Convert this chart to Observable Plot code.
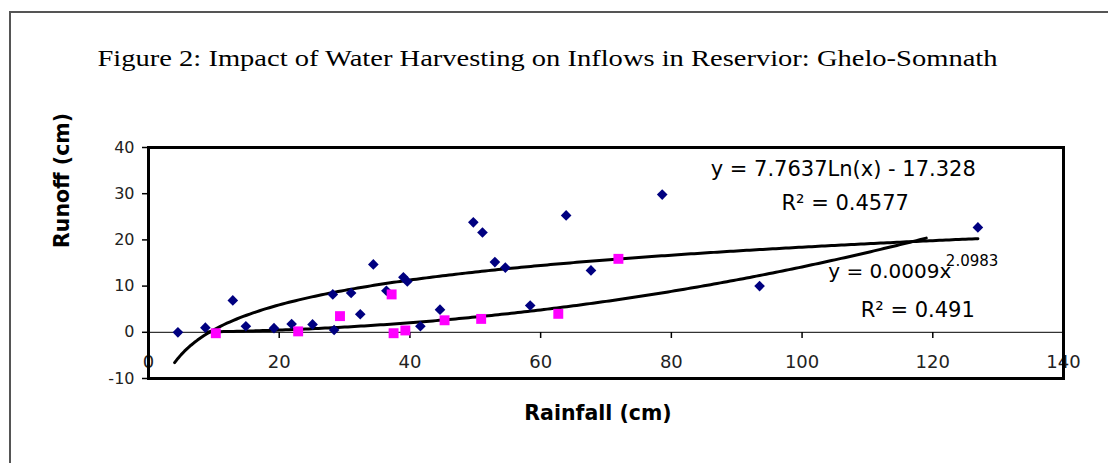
<!DOCTYPE html>
<html><head><meta charset="utf-8">
<script src="https://cdn.jsdelivr.net/npm/d3@7"></script>
<script src="https://cdn.jsdelivr.net/npm/@observablehq/plot@0.6"></script>
<style>
body{margin:0;background:#fff;}
#wrap{position:relative;width:1108px;height:463px;overflow:hidden;background:#fff;}
#border{position:absolute;left:9px;top:11px;width:1200px;height:600px;border-left:2px solid #555;border-top:2px solid #555;}
#wrap svg{position:absolute;left:0;top:0;}
</style></head><body><div id="wrap"><div id="border"></div></div>
<script>
// Series 1 (navy diamonds): rainfall (cm) vs runoff (cm)
const blueX = [4.5, 8.7, 12.9, 14.9, 19.2, 21.9, 25.1, 28.2, 28.4, 31.0, 32.4, 34.4, 36.4, 39.0, 39.6, 41.6, 44.6, 49.7, 51.1, 53.0, 54.6, 58.4, 63.9, 67.7, 78.6, 93.5, 126.9];
const blueY = [0.0, 1.0, 6.9, 1.3, 0.9, 1.8, 1.7, 8.2, 0.5, 8.5, 3.9, 14.7, 9.0, 11.9, 11.0, 1.3, 4.9, 23.8, 21.6, 15.2, 14.0, 5.8, 25.3, 13.4, 29.8, 10.0, 22.7];
// Series 2 (magenta squares)
const pinkX = [10.3, 22.9, 29.3, 37.2, 37.5, 39.3, 45.3, 50.9, 62.7, 71.9];
const pinkY = [-0.2, 0.2, 3.5, 8.2, -0.2, 0.4, 2.6, 2.9, 4.0, 15.9];
// Axis ticks
const xTicks = [0, 20, 40, 60, 80, 100, 120, 140];
const yTicks = [-10, 0, 10, 20, 30, 40];
// Trendlines as printed on the chart
const logFit = {a: 7.7637, b: -17.328, from: 4, to: 126.9};
const powFit = {a: 0.0009, k: 2.0983, from: 9, to: 119};
// Text
const titleText = "Figure 2: Impact of Water Harvesting on Inflows in Reservior: Ghelo-Somnath";
const xLabel = "Rainfall (cm)";
const yLabel = "Runoff (cm)";
const eqCentered = [
  {x: 106.3, y: 35.2, text: "y = 7.7637Ln(x) - 17.328"},
  {x: 106.6, y: 27.9, text: "R\u00b2 = 0.4577"},
  {x: 117.7, y: 4.7, text: "R\u00b2 = 0.491"}
];
const eqPower = [{x: 104.0, y: 13.2, text: "y = 0.0009x"}];
const eqExponent = [{x: 122.0, y: 15.3, text: "2.0983"}];

const blue = blueX.map((x, i) => ({x, y: blueY[i]}));
const pink = pinkX.map((x, i) => ({x, y: pinkY[i]}));
const logCurve = d3.range(logFit.from, logFit.to, 0.5).concat([logFit.to]).map(x => ({x, y: logFit.a * Math.log(x) + logFit.b}));
const powCurve = d3.range(powFit.from, powFit.to, 0.5).concat([powFit.to]).map(x => ({x, y: powFit.a * Math.pow(x, powFit.k)}));

const eqFont = "'DejaVu Sans', sans-serif";
const chart = Plot.plot({
  width: 1108, height: 463,
  marginLeft: 148, marginRight: 45, marginTop: 147, marginBottom: 85,
  x: {domain: [0, 140]},
  y: {domain: [-10, 40]},
  style: {background: "transparent", color: "#000", fontFamily: "'DejaVu Sans', sans-serif"},
  marks: [
    Plot.ruleY([0], {stroke: "#000", strokeWidth: 1}),
    Plot.axisY({ticks: yTicks, tickFormat: d => `${d}`, tickSize: 6, tickPadding: 8, fontSize: 16, label: null, stroke: "#000", strokeWidth: 1.5, fill: "#222"}),
    Plot.axisX({ticks: xTicks, tickFormat: d => `${d}`, tickSize: 6, tickPadding: 17, fontSize: 18, label: null, dy: -46, stroke: "#000", strokeWidth: 1.5, fill: "#222"}),
    Plot.line(logCurve, {x: "x", y: "y", stroke: "#000", strokeWidth: 3}),
    Plot.line(powCurve, {x: "x", y: "y", stroke: "#000", strokeWidth: 3}),
    Plot.dot(blue, {x: "x", y: "y", symbol: "diamond2", r: 4.8, fill: "#000080"}),
    Plot.dot(pink, {x: "x", y: "y", symbol: "square", r: 5.6, fill: "#ff00ff"}),
    Plot.frame({stroke: "#000", strokeWidth: 3}),
    Plot.text(eqCentered, {x: "x", y: "y", text: "text", textAnchor: "middle", fontSize: 21, fontFamily: eqFont, fill: "#000"}),
    Plot.text(eqPower, {x: "x", y: "y", text: "text", textAnchor: "start", fontSize: 20, fontFamily: eqFont, fill: "#000"}),
    Plot.text(eqExponent, {x: "x", y: "y", text: "text", textAnchor: "start", fontSize: 15, fontFamily: eqFont, fill: "#000"}),
    Plot.text([titleText], {text: d => d, frameAnchor: "top-left", textAnchor: "start", lineAnchor: "middle", dx: -51, dy: -89, fontSize: 23, fontFamily: "'Liberation Serif', 'Times New Roman', serif", fill: "#000"}),
    Plot.text([xLabel], {text: d => d, frameAnchor: "bottom", lineAnchor: "middle", dx: -8, dy: 35, fontSize: 20.5, fontWeight: "bold", fontFamily: eqFont, fill: "#000"}),
    Plot.text([yLabel], {text: d => d, frameAnchor: "left", rotate: -90, dx: -86, dy: -15, fontSize: 20.5, fontWeight: "bold", fontFamily: eqFont, fill: "#000"})
  ]
});
document.getElementById("wrap").appendChild(chart);
// stretch the title to the width it spans in the reference
for (const t of chart.querySelectorAll("text")) {
  if (t.textContent === titleText) {
    t.setAttribute("textLength", 900);
    t.setAttribute("lengthAdjust", "spacingAndGlyphs");
  }
}
</script>
</body></html>
